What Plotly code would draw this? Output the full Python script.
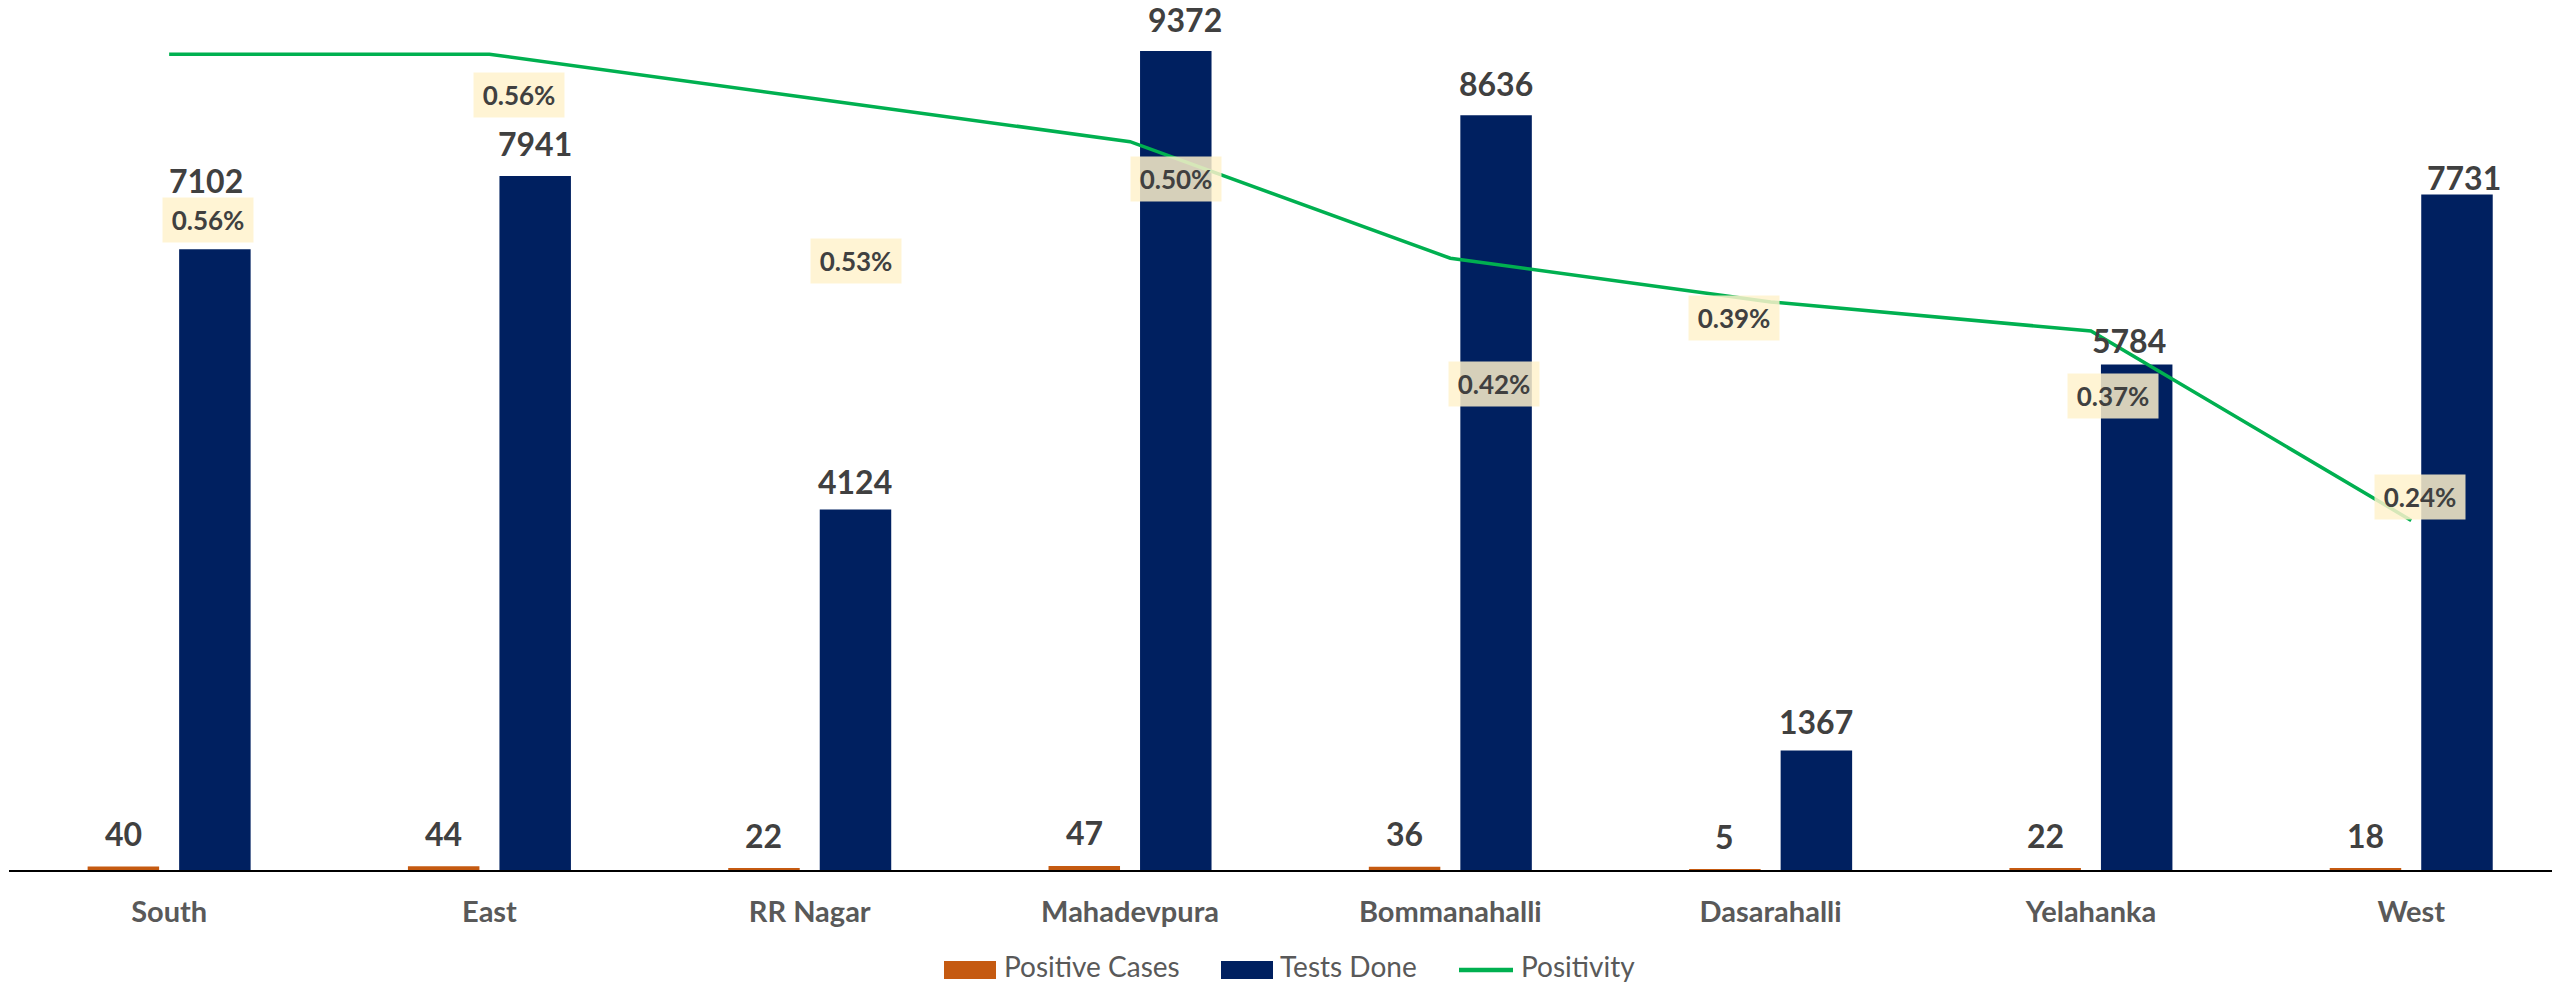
import plotly.graph_objects as go

# ---------------- data ----------------
categories = ["South", "East", "RR Nagar", "Mahadevpura", "Bommanahalli",
              "Dasarahalli", "Yelahanka", "West"]
positive_cases = [40, 44, 22, 47, 36, 5, 22, 18]
tests_done = [7102, 7941, 4124, 9372, 8636, 1367, 5784, 7731]
positivity = [0.56, 0.56, 0.53, 0.50, 0.42, 0.39, 0.37, 0.24]   # percent

# ---------------- label placement (pixel nudges, as placed in the original) ----------------
tests_lbl_dx = [-8.5, 0, 0, 9.5, 0, 0, -8, 7]
tests_lbl_dy = [69, 32.5, 28, 31, 32, 29.5, 24.5, 17]
pos_lbl_dy = 33
pct_lbl_dx = [38.5, 30, 46, 45.6, 43.3, -37, 21.7, 8.4]
pct_lbl_dy = [-165.7, -40.4, -163, -37, -125.6, -15.7, -64.8, 23.6]

# ---------------- styling ----------------
W, H = 2552, 986
ML, MB = 9, 116
PLOT_W, PLOT_H = W - ML, H - MB
PX_PER_CAT = 320.3
PX_PER_TEST = 0.08739
PX_PER_PCT = 1456.6
BAR_W = 0.2232
OFF_POS, OFF_TEST = -0.2545, 0.0312
C_POS, C_TEST, C_LINE = "#C55A11", "#002060", "#00B050"
FONT = "Lato"
LBL_COLOR = "#404040"
AX_COLOR = "#595959"

x = list(range(len(categories)))

fig = go.Figure()
fig.add_trace(go.Bar(x=x, y=positive_cases, name="Positive Cases", width=BAR_W,
                     offset=OFF_POS, marker=dict(color=C_POS, line=dict(width=0))))
fig.add_trace(go.Bar(x=x, y=tests_done, name="Tests Done", width=BAR_W,
                     offset=OFF_TEST, marker=dict(color=C_TEST, line=dict(width=0))))
fig.add_trace(go.Scatter(x=x, y=positivity, name="Positivity", yaxis="y2", mode="lines",
                         line=dict(color=C_LINE, width=3.5)))

ann = []
for i in x:
    # positive cases value labels
    ann.append(dict(x=i + OFF_POS + BAR_W / 2, y=positive_cases[i], xref="x", yref="y",
                    text=f"<b>{positive_cases[i]}</b>", showarrow=False,
                    yanchor="middle", xanchor="center", yshift=pos_lbl_dy,
                    font=dict(family=FONT, size=32, color=LBL_COLOR)))
    # tests done value labels
    ann.append(dict(x=i + OFF_TEST + BAR_W / 2, y=tests_done[i], xref="x", yref="y",
                    text=f"<b>{tests_done[i]}</b>", showarrow=False,
                    yanchor="middle", xanchor="center",
                    xshift=tests_lbl_dx[i], yshift=tests_lbl_dy[i],
                    font=dict(family=FONT, size=32, color=LBL_COLOR)))
    # positivity labels
    ann.append(dict(x=i, y=positivity[i], xref="x", yref="y2",
                    text=f"<b>{positivity[i]:.2f}%</b>", showarrow=False,
                    yanchor="middle", xanchor="center",
                    xshift=pct_lbl_dx[i], yshift=pct_lbl_dy[i],
                    width=90, height=44, borderpad=0,
                    bgcolor="rgba(255,242,204,0.84)",
                    font=dict(family=FONT, size=26, color=LBL_COLOR)))


# ---------------- custom legend ----------------
def px_x(p):
    return (p - ML) / PLOT_W


def px_y(p):
    return (PLOT_H - p) / PLOT_H


shapes = [
    dict(type="rect", xref="paper", yref="paper", x0=px_x(944), x1=px_x(996),
         y0=px_y(979), y1=px_y(961), fillcolor=C_POS, line=dict(width=0)),
    dict(type="rect", xref="paper", yref="paper", x0=px_x(1221), x1=px_x(1273),
         y0=px_y(979), y1=px_y(961), fillcolor=C_TEST, line=dict(width=0)),
    dict(type="line", xref="paper", yref="paper", x0=px_x(1459), x1=px_x(1513),
         y0=px_y(970), y1=px_y(970), line=dict(color=C_LINE, width=4.5)),
]
for name, left in [("Positive Cases", 1002), ("Tests Done", 1278), ("Positivity", 1519)]:
    ann.append(dict(x=px_x(left), y=px_y(966), xref="paper", yref="paper", text=name,
                    showarrow=False, xanchor="left", yanchor="middle",
                    font=dict(family=FONT, size=28, color=AX_COLOR)))

fig.update_layout(
    width=W, height=H,
    margin=dict(l=ML, r=0, t=0, b=MB, pad=0),
    paper_bgcolor="white", plot_bgcolor="white",
    barmode="overlay", showlegend=False, hovermode=False,
    font=dict(family=FONT),
    xaxis=dict(range=[-0.5, -0.5 + PLOT_W / PX_PER_CAT], tickmode="array",
               tickvals=x, ticktext=[f"<b>{c}</b>" for c in categories],
               tickfont=dict(family=FONT, size=29, color=AX_COLOR),
               showgrid=False, zeroline=False, showline=True, linecolor="#000000",
               linewidth=2, ticks="", ticklabelstandoff=15),
    yaxis=dict(range=[0, PLOT_H / PX_PER_TEST], visible=False, showgrid=False,
               zeroline=False),
    yaxis2=dict(range=[0, PLOT_H / PX_PER_PCT], overlaying="y", visible=False,
                showgrid=False, zeroline=False),
    annotations=ann, shapes=shapes,
)

fig.write_html("out.html", config={"displayModeBar": False},
               post_script="document.body.style.margin='0';document.body.style.overflow='hidden';")
